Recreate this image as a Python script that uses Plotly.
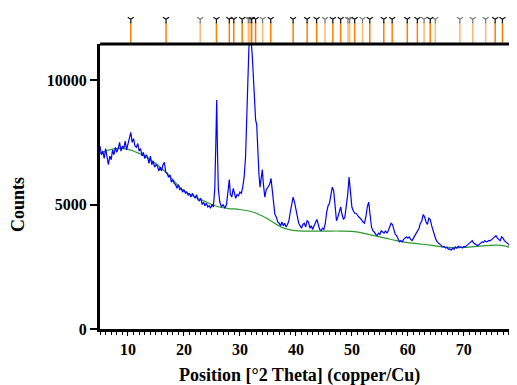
import plotly.graph_objects as go

# ---- data ----
two_theta = [
    5.00, 5.25, 5.50, 5.75, 6.00, 6.25, 6.50, 6.75, 7.00, 7.25, 7.50, 7.75,
    8.00, 8.25, 8.50, 8.75, 9.00, 9.25, 9.50, 9.75, 10.00, 10.25, 10.50, 10.75,
    11.00, 11.25, 11.50, 11.75, 12.00, 12.25, 12.50, 12.75, 13.00, 13.25, 13.50, 13.75,
    14.00, 14.25, 14.50, 14.75, 15.00, 15.25, 15.50, 15.75, 16.00, 16.25, 16.50, 16.75,
    17.00, 17.25, 17.50, 17.75, 18.00, 18.25, 18.50, 18.75, 19.00, 19.25, 19.50, 19.75,
    20.00, 20.25, 20.50, 20.75, 21.00, 21.25, 21.50, 21.75, 22.00, 22.25, 22.50, 22.75,
    23.00, 23.25, 23.50, 23.75, 24.00, 24.25, 24.50, 24.75, 25.00, 25.25, 25.50, 25.70,
    25.85, 26.00, 26.15, 26.40, 26.70, 27.00, 27.30, 27.60, 27.90, 28.10, 28.30, 28.55,
    28.80, 29.00, 29.25, 29.50, 29.75, 30.00, 30.25, 30.50, 30.75, 31.00, 31.20, 31.40,
    31.60, 31.80, 32.00, 32.20, 32.40, 32.60, 32.80, 33.00, 33.20, 33.40, 33.60, 33.80,
    34.00, 34.20, 34.45, 34.70, 35.00, 35.30, 35.55, 35.80, 36.00, 36.25, 36.50, 36.75,
    37.00, 37.25, 37.50, 37.75, 38.00, 38.25, 38.50, 38.75, 39.00, 39.25, 39.50, 39.75,
    40.00, 40.25, 40.50, 40.75, 41.00, 41.25, 41.50, 41.75, 42.00, 42.25, 42.50, 42.75,
    43.00, 43.25, 43.50, 43.75, 44.00, 44.25, 44.50, 44.75, 45.00, 45.25, 45.50, 45.75,
    46.00, 46.25, 46.50, 46.75, 47.00, 47.25, 47.50, 47.75, 48.00, 48.25, 48.50, 48.75,
    49.00, 49.25, 49.50, 49.75, 50.00, 50.25, 50.50, 50.75, 51.00, 51.25, 51.50, 51.75,
    52.00, 52.25, 52.50, 52.75, 53.00, 53.25, 53.50, 53.75, 54.00, 54.25, 54.50, 54.75,
    55.00, 55.25, 55.50, 55.75, 56.00, 56.25, 56.50, 56.75, 57.00, 57.25, 57.50, 57.75,
    58.00, 58.25, 58.50, 58.75, 59.00, 59.25, 59.50, 59.75, 60.00, 60.25, 60.50, 60.75,
    61.00, 61.25, 61.50, 61.75, 62.00, 62.25, 62.50, 62.75, 63.00, 63.25, 63.50, 63.75,
    64.00, 64.25, 64.50, 64.75, 65.00, 65.25, 65.50, 65.75, 66.00, 66.25, 66.50, 66.75,
    67.00, 67.25, 67.50, 67.75, 68.00, 68.25, 68.50, 68.75, 69.00, 69.25, 69.50, 69.75,
    70.00, 70.25, 70.50, 70.75, 71.00, 71.25, 71.50, 71.75, 72.00, 72.25, 72.50, 72.75,
    73.00, 73.25, 73.50, 73.75, 74.00, 74.25, 74.50, 74.75, 75.00, 75.25, 75.50, 75.75,
    76.00, 76.25, 76.50, 76.75, 77.00, 77.25, 77.50, 77.75, 78.00, 78.25, 78.50, 78.75,
    79.00, 79.25, 79.50,
]
counts = [
    7350, 7000, 7150, 6850, 7250, 6900, 6600, 6950, 6800, 7200, 7000, 7300,
    7100, 7250, 7500, 7150, 7350, 7250, 7550, 7200, 7450, 7600, 7900, 7500,
    7650, 7350, 7300, 7450, 7150, 7250, 6950, 7100, 6850, 7000, 6900, 6650,
    6950, 6600, 6750, 6500, 6600, 6550, 6350, 6500, 6350, 6600, 6700, 6300,
    6250, 6100, 6200, 5900, 6000, 5850, 5800, 5650, 5800, 5600, 5650, 5500,
    5600, 5450, 5500, 5380, 5450, 5300, 5450, 5350, 5250, 5400, 5200, 5150,
    5250, 5000, 5100, 4950, 5050, 4900, 4950, 4850, 5000, 4900, 5600, 7500,
    9200, 7000, 5600, 5100, 4900, 5000, 4850, 5000, 5600, 6000, 5400, 5300,
    5650, 5500, 5250, 5400, 5350, 5500, 5450, 5700, 6100, 6900, 8300, 10200,
    11300, 11700, 11600, 11000, 10200, 9200, 8400, 8200, 7000, 6200, 5700, 6200,
    6400, 5800, 5300, 5600, 5700, 5800, 6050, 5500, 5000, 4600, 4500, 4300,
    4250, 4150, 4300, 4150, 4250, 4100, 4200, 4350, 4700, 5100, 5300, 5100,
    4800, 4500, 4250, 4150, 4050, 4200, 4250, 4100, 4350, 4300, 4050, 4150,
    4000, 4150, 4300, 4400, 4200, 4000, 3950, 4050, 4000, 4250, 4700, 4950,
    5050, 5350, 5700, 5550, 4800, 4350, 4500, 4750, 4900, 4600, 4400, 4500,
    4950, 5400, 6100, 5500, 4900, 4750, 4650, 4650, 4550, 4500, 4450, 4350,
    4300, 4250, 4500, 4900, 5100, 4600, 4100, 3950, 3900, 3800, 3750, 3850,
    3800, 3950, 3900, 3850, 3950, 3850, 3950, 4100, 4250, 4200, 3950, 3800,
    3750, 3600, 3500, 3550, 3500, 3600, 3650, 3700, 3650, 3700, 3600, 3550,
    3650, 3750, 3850, 3950, 4050, 4250, 4350, 4600, 4500, 4300, 4200, 4450,
    4400, 4150, 3950, 3750, 3600, 3500, 3450, 3400, 3350, 3300, 3320, 3250,
    3280, 3200, 3220, 3170, 3250, 3200, 3300, 3250, 3320, 3280, 3300, 3260,
    3320, 3300, 3350, 3400, 3450, 3500, 3550, 3450, 3400, 3380, 3350, 3420,
    3450, 3500, 3480, 3550, 3500, 3520, 3560, 3550, 3600, 3650, 3720, 3750,
    3650, 3600, 3550, 3700, 3650, 3550, 3500, 3450, 3400, 3300, 3250, 3200,
    3150, 3100, 3080,
]

bg_theta = [5, 6, 7, 8, 9, 10, 11, 12, 13, 14, 15, 16, 17, 18, 19, 20, 21, 22, 23, 24,
            25, 26, 27, 28, 30, 32, 33, 34, 35, 36, 37, 38, 39, 40, 42, 44, 46, 48, 50,
            52, 54, 56, 58, 60, 62, 64, 66, 68, 70, 72, 74, 76, 77, 78, 79, 79.5]
bg_counts = [7050, 7150, 7220, 7250, 7250, 7220, 7150, 7050, 6950, 6800, 6650, 6450,
             6250, 6000, 5750, 5550, 5420, 5300, 5200, 5100, 5000, 4920, 4870, 4840,
             4800, 4720, 4640, 4540, 4420, 4280, 4140, 4040, 3980, 3950, 3930, 3930,
             3935, 3935, 3920, 3850, 3750, 3650, 3550, 3470, 3420, 3370, 3300, 3270,
             3280, 3310, 3350, 3370, 3350, 3290, 3190, 3120]

ref_dark = [10.5, 16.8, 25.8, 28.1, 28.9, 30.4, 32.1, 32.8, 35.5, 39.5, 42.0, 43.7,
            46.6, 48.0, 50.5, 53.2, 55.7, 57.2, 59.9, 61.7, 64.0, 75.6, 76.9]
ref_light = [22.9, 31.5, 31.8, 34.05, 45.2, 49.3, 49.6, 51.9, 62.9, 64.9, 69.3, 71.6, 73.9]

x_ticks = [10, 20, 30, 40, 50, 60, 70]
y_ticks = [0, 5000, 10000]
y_tick_labels = ["0", "5000", "10000"]

# ---- figure (page has an 8px body margin, so figure coords = page - 8) ----
W, H = 509, 377
ML, MB = 92, 56
plot_h = H - MB          # 321
strip_h = 36
main_top = (plot_h - strip_h) / plot_h

fig = go.Figure()

fig.add_trace(go.Scatter(x=bg_theta, y=bg_counts, mode="lines",
                         line=dict(color="#2E9A2E", width=1.2, shape="spline"),
                         hoverinfo="skip", showlegend=False))
fig.add_trace(go.Scatter(x=two_theta, y=counts, mode="lines",
                         line=dict(color="#0000FF", width=1.2),
                         showlegend=False))


def stick_trace(pos, color, glyph_color):
    xs, ys = [], []
    for p in pos:
        xs += [p, p, None]
        ys += [0.03, 0.61, None]
    lines = go.Scatter(x=xs, y=ys, mode="lines", xaxis="x2", yaxis="y2",
                       line=dict(color=color, width=1.5), showlegend=False,
                       hoverinfo="skip")
    marks = go.Scatter(x=pos, y=[0.69] * len(pos), mode="markers", xaxis="x2", yaxis="y2",
                       marker=dict(symbol="y-down", size=5,
                                   line=dict(color=glyph_color, width=1.2)),
                       showlegend=False, hoverinfo="skip")
    return [lines, marks]


for t in stick_trace(ref_light, "#FFB870", "#777777"):
    fig.add_trace(t)
for t in stick_trace(ref_dark, "#FF7F00", "#111111"):
    fig.add_trace(t)

bold = dict(family="Liberation Serif", size=16, color="black", weight="bold")

fig.update_layout(
    width=W, height=H,
    margin=dict(l=ML, r=0, t=0, b=MB, autoexpand=False),
    paper_bgcolor="white", plot_bgcolor="white",
    xaxis=dict(range=[5, 79.5], domain=[0, 1], anchor="y", automargin=False,
               tickvals=x_ticks, ticks="outside", ticklen=4, tickwidth=1,
               tickcolor="black", showline=True, linecolor="black", linewidth=2.5,
               showgrid=False, zeroline=False, tickfont=bold,
               minor=dict(dtick=1, ticks="outside", ticklen=3, tickcolor="black")),
    yaxis=dict(range=[0, 11450], domain=[0, main_top], anchor="x", automargin=False,
               tickvals=y_ticks, ticktext=y_tick_labels, ticks="outside", ticklen=7,
               tickwidth=1.5, tickcolor="black", showline=True, linecolor="black",
               linewidth=3, showgrid=False, zeroline=False, tickfont=bold),
    xaxis2=dict(matches="x", anchor="y2", visible=False, domain=[0, 1]),
    yaxis2=dict(range=[0, 1], domain=[main_top, 1], visible=False, anchor="x2"),
    shapes=[dict(type="line", xref="paper", yref="paper", x0=0, x1=1,
                 y0=main_top, y1=main_top, line=dict(color="black", width=3))],
    annotations=[
        dict(text="Position [°2 Theta] (copper/Cu)", xref="paper", yref="paper",
             x=(291 - ML) / (W - ML), y=-(368 - plot_h) / plot_h,
             xanchor="center", yanchor="middle", showarrow=False,
             font=dict(family="Liberation Serif", size=18, color="black", weight="bold")),
        dict(text="Counts", xref="paper", yref="paper",
             x=-(ML - 10) / (W - ML), y=(plot_h - 197) / plot_h,
             xanchor="center", yanchor="middle", showarrow=False, textangle=-90,
             font=dict(family="Liberation Serif", size=18, color="black", weight="bold")),
    ],
)

fig.write_html("out.html")
